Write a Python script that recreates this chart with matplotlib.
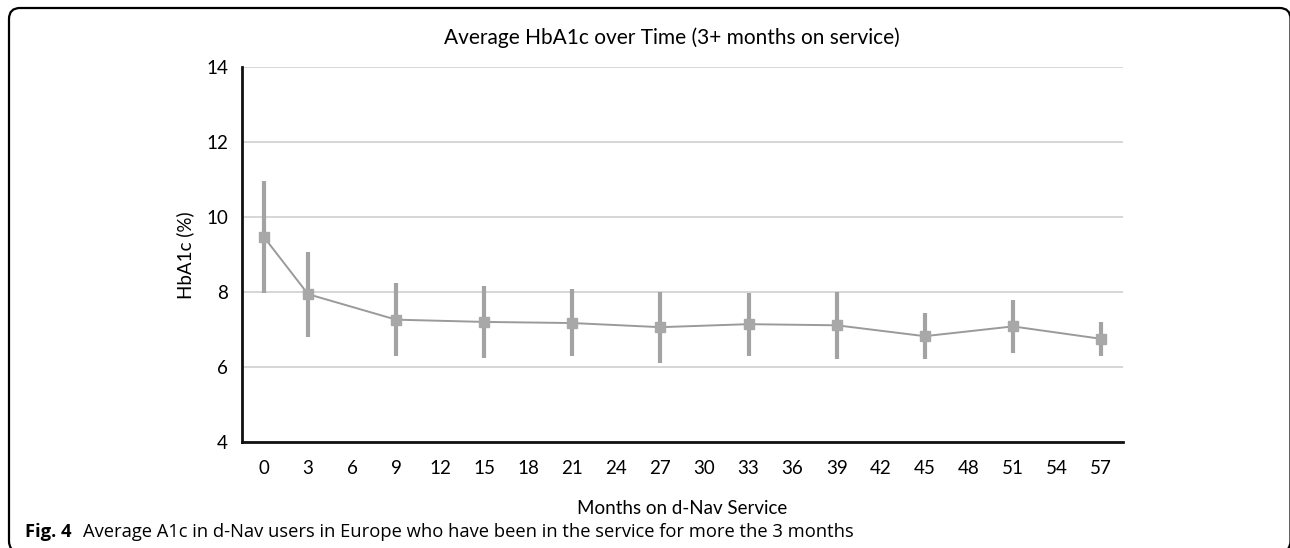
import matplotlib.pyplot as plt
from matplotlib.patches import FancyBboxPatch

# 数据
months = ['0', '3', '6', '9', '12', '15', '18', '21', '24', '27',
          '30', '33', '36', '39', '42', '45', '48', '51', '54', '57']
point_months = ['0', '3', '9', '15', '21', '27', '33', '39', '45', '51', '57']
hba1c = [9.47, 7.95, 7.27, 7.21, 7.18, 7.07, 7.15, 7.12, 6.83, 7.09, 6.76]
upper = [10.98, 9.08, 8.24, 8.17, 8.08, 8.02, 7.99, 8.02, 7.46, 7.80, 7.21]
lower = [7.99, 6.82, 6.30, 6.25, 6.29, 6.12, 6.29, 6.22, 6.21, 6.37, 6.30]

plt.rcParams['font.family'] = ['Lato', 'DejaVu Sans']

fig = plt.figure(figsize=(12.9, 5.48), dpi=100)
ax = fig.add_axes([0.1876, 0.1929, 0.6829, 0.6843])

# 类别轴
x_pos = {m: i for i, m in enumerate(months)}
xs = [x_pos[m] for m in point_months]
err_lo = [v - l for v, l in zip(hba1c, lower)]
err_hi = [u - v for v, u in zip(hba1c, upper)]

ax.errorbar(xs, hba1c, yerr=[err_lo, err_hi], fmt='none', ecolor='#a3a3a3',
            elinewidth=3.0, capsize=0, zorder=3)
ax.plot(xs, hba1c, color='#9a9a9a', lw=1.4, marker='s', markersize=6.5,
        markerfacecolor='#a8a8a8', markeredgecolor='#a8a8a8', zorder=4)

ax.set_xlim(-0.5, len(months) - 0.5)
ax.set_ylim(4, 14)
ax.set_xticks(range(len(months)))
ax.set_xticklabels(months)
ax.set_yticks([4, 6, 8, 10, 12, 14])
ax.tick_params(length=0, labelsize=13.5, pad=13)
ax.tick_params(axis='y', pad=10)
ax.grid(axis='y', color='#cfcfcf', lw=1.2)
ax.set_axisbelow(True)
for s in ['top', 'right']:
    ax.spines[s].set_visible(False)
for s in ['left', 'bottom']:
    ax.spines[s].set_linewidth(2)
    ax.spines[s].set_color('#111111')

ax.set_ylabel('HbA1c (%)', fontsize=13.5, labelpad=9)
ax.set_xlabel('Months on d-Nav Service', fontsize=13.5, labelpad=16)
fig.text(0.521, 0.931, 'Average HbA1c over Time (3+ months on service)',
         ha='center', va='center', fontsize=15)

# 边框和图注
frame = FancyBboxPatch((9 / 1290, -4 / 548), 1281.5 / 1290, 544 / 548,
                       boxstyle='round,pad=0,rounding_size=%f' % (11 / 1290),
                       transform=fig.transFigure, fill=False,
                       edgecolor='black', lw=1.6, mutation_aspect=1290 / 548)
fig.patches.append(frame)
fig.text(25 / 1290, 1 - 532 / 548, 'Fig. 4', fontsize=13.2, fontweight='bold',
         ha='left', va='center', family=['Open Sans', 'DejaVu Sans'])
fig.text(83 / 1290, 1 - 532 / 548,
         'Average A1c in d-Nav users in Europe who have been in the service for more the 3 months',
         fontsize=13.2, ha='left', va='center', family=['Open Sans', 'DejaVu Sans'])

fig.savefig('out.png', dpi=100)
